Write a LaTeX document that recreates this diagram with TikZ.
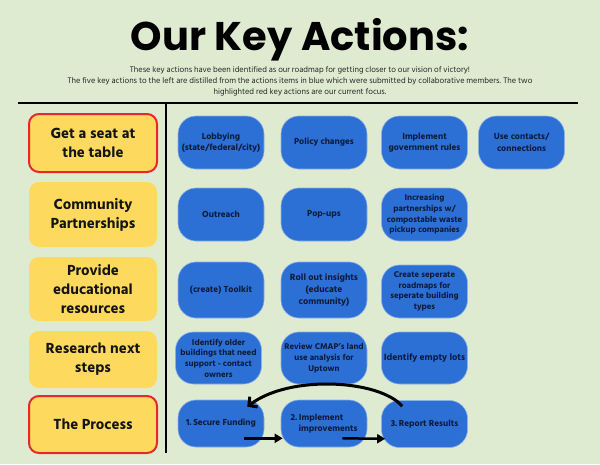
\documentclass[tikz,border=0pt]{standalone}
\usepackage{fontspec}
\IfFontExistsTF{Hind Siliguri Bold}
  {\setmainfont{Hind Siliguri}[BoldFont={Hind Siliguri Bold}]}
  {\setmainfont{Hind Siliguri}[BoldFeatures={FakeBold=2.5}]}
\newfontfamily\titlefont{Poppins}
\usetikzlibrary{arrows.meta}
\definecolor{bg}{HTML}{DFEBD1}
\definecolor{yel}{HTML}{FDDA5E}
\definecolor{redb}{HTML}{E8262C}
\definecolor{blu}{HTML}{2C6FD5}
\definecolor{navy}{HTML}{0D1B3A}
\begin{document}
\begin{tikzpicture}[x=1pt,y=-1pt,
  keybox/.style={fill=yel, rounded corners=10pt, minimum width=128pt, align=center,
    font=\bfseries\fontsize{15}{19}\selectfont, text=black!92, inner sep=0pt},
  focus/.style={keybox, draw=redb, line width=2pt},
  act/.style={fill=blu, draw=blu!55!white, line width=0.6pt, rounded corners=18pt,
    minimum width=86pt, align=center, font=\bfseries\fontsize{9}{11.5}\selectfont,
    text=navy, inner sep=0pt},
  small/.style={font=\bfseries\fontsize{8.6}{10.7}\selectfont},
  sub/.style={anchor=base, font=\fontsize{8.3}{10}\selectfont, text=black!85, inner sep=0pt},
  rule/.style={line width=2pt, black},
  flow/.style={line width=2.5pt, -{Triangle[length=8pt,width=9pt]}},
  loopback/.style={line width=3pt, -{Straight Barb[length=6pt,width=13pt]}}
]
\fill[bg] (0,0) rectangle (600,464);
\useasboundingbox (0,0) rectangle (600,464);

% title and subtitle
\node[anchor=base, inner sep=0pt, font=\titlefont\bfseries\fontsize{40}{44}\selectfont] (title) at (300,50) {Our Key Actions:};
\node[sub] (s1) at (300,72.5) {These key actions have been identified as our roadmap for getting closer to our vision of victory!};
\node[sub] (s2) at (300,83.5) {The five key actions to the left are distilled from the actions items in blue which were submitted by collaborative members. The two};
\node[sub] (s3) at (300,94.5) {highlighted red key actions are our current focus.};

% rules
\draw[rule] (18,102.5) -- (578,102.5);
\draw[rule] (166,102.5) -- (166,453);

% key actions
\node[focus, minimum height=58pt] (k1) at (93,143) {Get a seat at\\the table};
\node[keybox, minimum height=65pt] (k2) at (93,214.5) {Community\\Partnerships};
\node[keybox, minimum height=64pt] (k3) at (93,289) {Provide\\educational\\resources};
\node[keybox, minimum height=57pt] (k4) at (93,359.5) {Research next\\steps};
\node[focus, minimum height=57pt] (k5) at (93,424.5) {The Process};

% action items
\node[act, minimum height=53pt] (a11) at (221,142.5) {Lobbying\\(state/federal/city)};
\node[act, minimum height=53pt] (a12) at (324,142.5) {Policy changes};
\node[act, minimum height=53pt] (a13) at (424.5,142.5) {Implement\\government rules};
\node[act, minimum height=53pt] (a14) at (521.5,142.5) {Use contacts/\\connections};

\node[act, minimum height=53pt] (a21) at (221,214.5) {Outreach};
\node[act, minimum height=53pt] (a22) at (324,214.5) {Pop-ups};
\node[act, small, minimum height=53pt] (a23) at (424.5,214.5) {Increasing\\partnerships w/\\compostable waste\\pickup companies};

\node[act, minimum height=56pt] (a31) at (221,290) {(create) Toolkit};
\node[act, minimum height=56pt, font=\bfseries\fontsize{9.3}{12}\selectfont] (a32) at (324,290) {Roll out insights\\(educate\\community)};
\node[act, small, minimum height=53pt] (a33) at (424.5,291.5) {Create seperate\\roadmaps for\\seperate building\\types};

\node[act, small, minimum height=52pt] (a41) at (218.5,358) {Identify older\\buildings that need\\support - contact\\owners};
\node[act, small, minimum height=52pt] (a42) at (324,358) {Review CMAP’s land\\use analysis for\\Uptown};
\node[act, minimum height=52pt, font=\bfseries\fontsize{9.4}{11}\selectfont] (a43) at (424.5,358) {Identify empty lots};

\node[act, minimum height=47pt] (p1) at (221,423.5) {1.\,Secure Funding};
\node[act, minimum height=47pt, align=left] (p2) at (324,423.5) {2.\,Implement\\\hspace*{8pt}improvements};
\node[act, minimum height=47pt] (p3) at (424.5,424) {3.\,Report Results};

% process arrows
\coordinate (f1s) at ([shift={(-20,-9)}]p1.south east);
\coordinate (f1e) at ([shift={(2,-9)}]p2.south west);
\coordinate (f2s) at ([shift={(-25,-9)}]p2.south east);
\coordinate (f2e) at ([shift={(4,-9)}]p3.south west);
\coordinate (bs) at ([shift={(21,6)}]p3.north west);
\coordinate (be) at ([shift={(-17,7)}]p1.north east);
\draw[flow] (f1s) -- (f1e);
\draw[flow] (f2s) -- (f2e);
\draw[loopback] (bs) .. controls (380,380) and (290,374) .. (be);
\end{tikzpicture}
\end{document}
